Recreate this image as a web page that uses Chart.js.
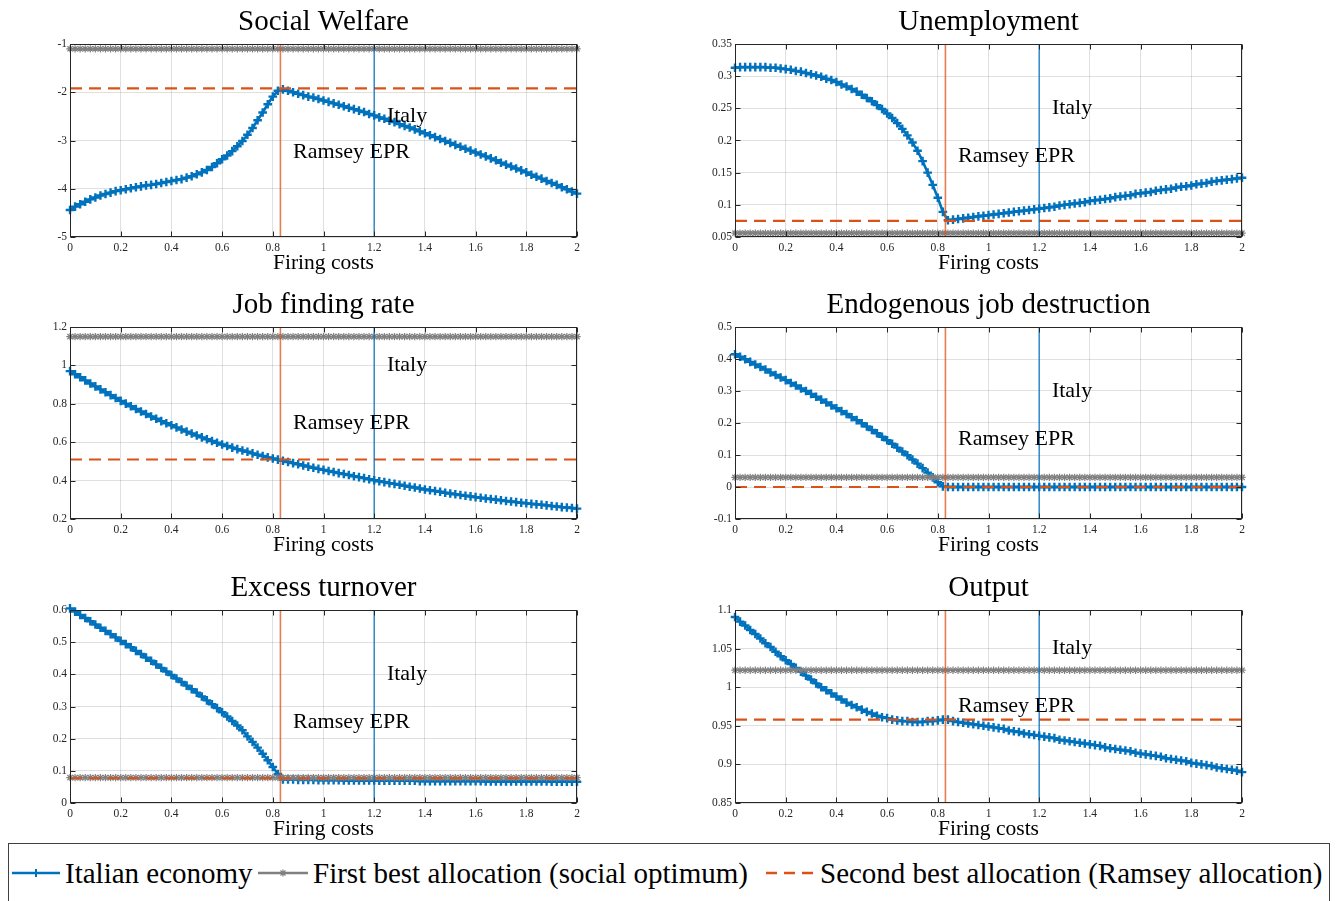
<!DOCTYPE html>
<html>
<head>
<meta charset="utf-8">
<title>Firing costs: Italian economy vs first and second best</title>
<script src="https://cdn.jsdelivr.net/npm/chart.js@4.4.1/dist/chart.umd.min.js"></script>
<style>
  html, body { margin: 0; padding: 0; background: #fff; overflow: hidden; }
  #page { position: relative; width: 1342px; height: 901px; }
  #page canvas { position: absolute; }
  .legend-box { position: absolute; left: 8px; top: 843px; width: 1322px; height: 70px;
                border: 1px solid #404040; box-sizing: border-box; }
  .lg { position: absolute; top: 858px; font-family: "Liberation Serif", serif; font-size: 29px;
        line-height: 30px; white-space: nowrap; color: #000; }
</style>
</head>
<body>
<div id="page">
  <canvas id="welfare"     width="660" height="283" style="left:0;top:0"></canvas>
  <canvas id="unemp"       width="682" height="283" style="left:660px;top:0"></canvas>
  <canvas id="jobfind"     width="660" height="283" style="left:0;top:283px"></canvas>
  <canvas id="jobdestr"    width="682" height="283" style="left:660px;top:283px"></canvas>
  <canvas id="turnover"    width="660" height="276" style="left:0;top:566px"></canvas>
  <canvas id="output"      width="682" height="276" style="left:660px;top:566px"></canvas>

  <div class="legend-box"></div>
  <svg style="position:absolute;left:0;top:843px" width="1342" height="58">
    <line x1="12" y1="30" x2="60" y2="30" stroke="#0072BD" stroke-width="2.5"/>
    <path d="M32 30h8M36 26v8" stroke="#0072BD" stroke-width="2" fill="none"/>
    <line x1="258" y1="30" x2="308" y2="30" stroke="#808080" stroke-width="2.5"/>
    <path d="M279.5 30h7M283 26.5v7M280.5 27.5l5 5M285.5 27.5l-5 5" stroke="#808080" stroke-width="1.2" fill="none"/>
    <line x1="766" y1="30" x2="815" y2="30" stroke="#D95319" stroke-width="2.5" stroke-dasharray="11 7"/>
  </svg>
  <span class="lg" style="left:65px">Italian economy</span>
  <span class="lg" style="left:313px">First best allocation (social optimum)</span>
  <span class="lg" style="left:820px">Second best allocation (Ramsey allocation)</span>
</div>

<script>
// ---- horizontal axis: firing costs grid and ticks ----
const firingCosts = [
  0.00,0.02,0.04,0.06,0.08,0.10,0.12,0.14,0.16,0.18,
  0.20,0.22,0.24,0.26,0.28,0.30,0.32,0.34,0.36,0.38,
  0.40,0.42,0.44,0.46,0.48,0.50,0.52,0.54,0.56,0.58,
  0.60,0.62,0.64,0.66,0.68,0.70,0.72,0.74,0.76,0.78,
  0.80,0.82,0.84,0.86,0.88,0.90,0.92,0.94,0.96,0.98,
  1.00,1.02,1.04,1.06,1.08,1.10,1.12,1.14,1.16,1.18,
  1.20,1.22,1.24,1.26,1.28,1.30,1.32,1.34,1.36,1.38,
  1.40,1.42,1.44,1.46,1.48,1.50,1.52,1.54,1.56,1.58,
  1.60,1.62,1.64,1.66,1.68,1.70,1.72,1.74,1.76,1.78,
  1.80,1.82,1.84,1.86,1.88,1.90,1.92,1.94,1.96,1.98,
  2.00
];
const xTickValues = [0, 0.2, 0.4, 0.6, 0.8, 1, 1.2, 1.4, 1.6, 1.8, 2];
const xTickLabels = ['0', '0.2', '0.4', '0.6', '0.8', '1', '1.2', '1.4', '1.6', '1.8', '2'];

// firing-cost levels marked by the vertical lines
const ramseyEpr = 0.83;
const italyEpr = 1.2;

// ---- Social welfare ----
const welfareItaly = [
  -4.44,-4.37,-4.32,-4.27,-4.22,-4.18,-4.14,-4.11,-4.08,-4.05,
  -4.03,-4.01,-3.99,-3.97,-3.95,-3.93,-3.92,-3.90,-3.88,-3.86,
  -3.84,-3.82,-3.80,-3.77,-3.74,-3.70,-3.66,-3.61,-3.55,-3.47,
  -3.39,-3.31,-3.22,-3.12,-3.01,-2.88,-2.74,-2.58,-2.42,-2.25,
  -2.09,-1.97,-1.94,-1.97,-2.00,-2.03,-2.06,-2.09,-2.11,-2.14,
  -2.17,-2.20,-2.23,-2.26,-2.29,-2.32,-2.35,-2.38,-2.41,-2.45,
  -2.48,-2.52,-2.55,-2.59,-2.62,-2.66,-2.70,-2.73,-2.77,-2.81,
  -2.85,-2.89,-2.93,-2.97,-3.01,-3.05,-3.09,-3.13,-3.17,-3.21,
  -3.25,-3.29,-3.33,-3.37,-3.41,-3.46,-3.50,-3.54,-3.58,-3.62,
  -3.66,-3.71,-3.75,-3.79,-3.84,-3.88,-3.92,-3.97,-4.01,-4.06,
  -4.10
];
const welfareFirstBest = -1.10;
const welfareRamsey = -1.92;
const welfareTicks = [-5, -4, -3, -2, -1];
const welfareTickLabels = ['-5', '-4', '-3', '-2', '-1'];

// ---- Unemployment ----
const unempItaly = [
  0.313,0.314,0.314,0.314,0.314,0.314,0.314,0.313,0.313,0.312,
  0.311,0.310,0.308,0.307,0.305,0.303,0.301,0.299,0.296,0.294,
  0.291,0.287,0.284,0.280,0.276,0.271,0.266,0.261,0.255,0.249,
  0.242,0.235,0.227,0.218,0.208,0.197,0.184,0.168,0.150,0.131,
  0.111,0.089,0.076,0.077,0.078,0.079,0.080,0.081,0.082,0.083,
  0.084,0.085,0.086,0.087,0.088,0.089,0.090,0.091,0.092,0.093,
  0.094,0.095,0.096,0.097,0.099,0.100,0.101,0.102,0.103,0.104,
  0.106,0.107,0.108,0.109,0.110,0.112,0.113,0.114,0.115,0.117,
  0.118,0.119,0.120,0.122,0.123,0.124,0.125,0.127,0.128,0.129,
  0.130,0.132,0.133,0.134,0.136,0.137,0.138,0.139,0.140,0.141,
  0.142
];
const unempFirstBest = 0.056;
const unempRamsey = 0.075;
const unempTicks = [0.05, 0.1, 0.15, 0.2, 0.25, 0.3, 0.35];
const unempTickLabels = ['0.05', '0.1', '0.15', '0.2', '0.25', '0.3', '0.35'];

// ---- Job finding rate ----
const jobFindItaly = [
  0.970,0.954,0.938,0.922,0.906,0.891,0.875,0.860,0.845,0.830,
  0.815,0.801,0.787,0.773,0.760,0.747,0.734,0.722,0.710,0.699,
  0.688,0.677,0.666,0.655,0.645,0.635,0.625,0.615,0.606,0.597,
  0.588,0.580,0.572,0.564,0.557,0.550,0.542,0.535,0.528,0.521,
  0.515,0.509,0.503,0.497,0.491,0.485,0.479,0.473,0.467,0.461,
  0.456,0.450,0.445,0.439,0.434,0.429,0.423,0.418,0.413,0.407,
  0.402,0.397,0.392,0.387,0.383,0.378,0.373,0.368,0.364,0.359,
  0.354,0.350,0.346,0.342,0.337,0.333,0.329,0.325,0.321,0.318,
  0.314,0.311,0.307,0.304,0.301,0.298,0.294,0.291,0.288,0.285,
  0.282,0.279,0.276,0.274,0.271,0.268,0.265,0.262,0.260,0.257,
  0.254
];
const jobFindFirstBest = 1.15;
const jobFindRamsey = 0.51;
const jobFindTicks = [0.2, 0.4, 0.6, 0.8, 1, 1.2];
const jobFindTickLabels = ['0.2', '0.4', '0.6', '0.8', '1', '1.2'];

// ---- Endogenous job destruction ----
const jobDestrItaly = [
  0.415,0.407,0.399,0.391,0.383,0.375,0.367,0.358,0.350,0.342,
  0.334,0.325,0.317,0.308,0.300,0.291,0.282,0.273,0.264,0.255,
  0.246,0.237,0.228,0.218,0.209,0.199,0.189,0.178,0.168,0.157,
  0.146,0.135,0.123,0.111,0.099,0.086,0.073,0.059,0.045,0.030,
  0.015,0.002,0.000,0.000,0.000,0.000,0.000,0.000,0.000,0.000,
  0.000,0.000,0.000,0.000,0.000,0.000,0.000,0.000,0.000,0.000,
  0.000,0.000,0.000,0.000,0.000,0.000,0.000,0.000,0.000,0.000,
  0.000,0.000,0.000,0.000,0.000,0.000,0.000,0.000,0.000,0.000,
  0.000,0.000,0.000,0.000,0.000,0.000,0.000,0.000,0.000,0.000,
  0.000,0.000,0.000,0.000,0.000,0.000,0.000,0.000,0.000,0.000,
  0.000
];
const jobDestrFirstBest = 0.030;
const jobDestrRamsey = 0.0;
const jobDestrTicks = [-0.1, 0, 0.1, 0.2, 0.3, 0.4, 0.5];
const jobDestrTickLabels = ['-0.1', '0', '0.1', '0.2', '0.3', '0.4', '0.5'];

// ---- Excess turnover ----
const turnoverItaly = [
  0.605,0.595,0.585,0.575,0.565,0.555,0.545,0.535,0.525,0.515,
  0.504,0.494,0.484,0.473,0.463,0.452,0.442,0.431,0.420,0.409,
  0.398,0.387,0.376,0.365,0.354,0.343,0.331,0.319,0.307,0.295,
  0.282,0.269,0.255,0.241,0.226,0.207,0.190,0.172,0.153,0.133,
  0.112,0.090,0.073,0.073,0.073,0.072,0.072,0.072,0.072,0.071,
  0.071,0.071,0.071,0.071,0.070,0.070,0.070,0.070,0.070,0.070,
  0.070,0.069,0.069,0.069,0.069,0.069,0.069,0.069,0.069,0.068,
  0.068,0.068,0.068,0.068,0.068,0.068,0.068,0.068,0.068,0.068,
  0.068,0.068,0.067,0.067,0.067,0.067,0.067,0.067,0.067,0.067,
  0.067,0.067,0.067,0.067,0.067,0.066,0.066,0.066,0.066,0.066,
  0.066
];
const turnoverFirstBest = 0.079;
const turnoverRamsey = 0.077;
const turnoverTicks = [0, 0.1, 0.2, 0.3, 0.4, 0.5, 0.6];
const turnoverTickLabels = ['0', '0.1', '0.2', '0.3', '0.4', '0.5', '0.6'];

// ---- Output ----
const outputItaly = [
  1.091,1.085,1.080,1.074,1.069,1.063,1.057,1.052,1.046,1.040,
  1.035,1.030,1.025,1.020,1.015,1.010,1.005,1.000,0.996,0.992,
  0.988,0.984,0.980,0.977,0.974,0.971,0.968,0.966,0.963,0.961,
  0.960,0.958,0.957,0.956,0.956,0.955,0.955,0.955,0.956,0.956,
  0.957,0.958,0.958,0.956,0.955,0.954,0.953,0.952,0.951,0.950,
  0.949,0.948,0.947,0.946,0.944,0.943,0.942,0.940,0.939,0.938,
  0.937,0.936,0.935,0.934,0.932,0.931,0.930,0.929,0.928,0.927,
  0.926,0.925,0.924,0.922,0.921,0.920,0.919,0.918,0.917,0.915,
  0.914,0.913,0.912,0.911,0.910,0.908,0.907,0.906,0.905,0.904,
  0.902,0.901,0.900,0.899,0.898,0.896,0.895,0.894,0.893,0.892,
  0.890
];
const outputFirstBest = 1.022;
const outputRamsey = 0.958;
const outputTicks = [0.85, 0.9, 0.95, 1, 1.05, 1.1];
const outputTickLabels = ['0.85', '0.9', '0.95', '1', '1.05', '1.1'];

// ---- colours and fonts ----
const BLUE = '#0072BD';
const GREY = '#808080';
const ORANGE = '#D95319';
const AXIS = '#262626';
const SERIF = '"Liberation Serif", "Times New Roman", serif';

// Titles, box, inward tick marks and the "Italy" / "Ramsey EPR" labels
const panelDecor = {
  id: 'panelDecor',
  afterDatasetsDraw(chart, args, o) {
    const { ctx, chartArea: a } = chart;
    const xs = chart.scales.x, ys = chart.scales.y;
    ctx.save();

    // text labels next to the vertical lines
    ctx.fillStyle = '#000';
    ctx.font = '22px ' + SERIF;
    ctx.textAlign = 'left';
    ctx.textBaseline = 'middle';
    o.notes.forEach(n => ctx.fillText(n.text, xs.getPixelForValue(n.x), ys.getPixelForValue(n.y)));

    // axes box
    ctx.strokeStyle = AXIS;
    ctx.lineWidth = 1;
    const L = Math.round(a.left) + 0.5, R = Math.round(a.right) - 0.5;
    const T = Math.round(a.top) + 0.5, B = Math.round(a.bottom) - 0.5;
    ctx.strokeRect(L, T, R - L, B - T);

    // tick marks pointing inwards on all four sides
    ctx.beginPath();
    xs.ticks.forEach(t => {
      const px = Math.round(xs.getPixelForValue(t.value)) + 0.5;
      ctx.moveTo(px, B); ctx.lineTo(px, B - 5);
      ctx.moveTo(px, T); ctx.lineTo(px, T + 5);
    });
    ys.ticks.forEach(t => {
      const py = Math.round(ys.getPixelForValue(t.value)) + 0.5;
      ctx.moveTo(L, py); ctx.lineTo(L + 5, py);
      ctx.moveTo(R, py); ctx.lineTo(R - 5, py);
    });
    ctx.stroke();

    // panel title and horizontal axis label
    ctx.fillStyle = '#000';
    ctx.textAlign = 'center';
    ctx.textBaseline = 'alphabetic';
    const cx = (a.left + a.right) / 2;
    ctx.font = '29px ' + SERIF;
    ctx.fillText(o.title, cx, a.top - 14);
    ctx.font = '21.5px ' + SERIF;
    ctx.fillText(o.xLabel, cx, a.bottom + 32);
    ctx.restore();
  }
};

function makePanel(id, p) {
  const curve = ys => firingCosts.map((x, i) => ({ x, y: ys[i] }));
  const level = v => firingCosts.map(x => ({ x, y: v }));
  const vline = (x) => [{ x, y: p.yMin }, { x, y: p.yMax }];

  new Chart(document.getElementById(id), {
    type: 'line',
    data: {
      datasets: [
        { label: 'Ramsey EPR', data: vline(ramseyEpr), borderColor: 'rgba(217,83,25,0.75)',
          borderWidth: 1.6, pointRadius: 0, order: 0 },
        { label: 'Italy', data: vline(italyEpr), borderColor: 'rgba(0,114,189,0.75)',
          borderWidth: 1.6, pointRadius: 0, order: 0 },
        { label: 'Second best allocation (Ramsey allocation)', data: level(p.ramsey),
          borderColor: ORANGE, borderWidth: 2.2, borderDash: [12, 7], pointRadius: 0, order: 1 },
        { label: 'First best allocation (social optimum)', data: level(p.firstBest),
          borderColor: GREY, borderWidth: 1.8, pointStyle: 'star', pointRadius: 3.7,
          pointBorderWidth: 1.2, pointBorderColor: GREY, pointBackgroundColor: GREY, order: 2, clip: false },
        { label: 'Italian economy', data: curve(p.italy),
          borderColor: BLUE, borderWidth: 2.6, pointStyle: 'cross', pointRadius: 4.3,
          pointBorderWidth: 2.4, pointBorderColor: BLUE, order: 3, clip: false }
      ]
    },
    options: {
      responsive: false,
      animation: false,
      devicePixelRatio: 1,
      events: [],
      layout: { autoPadding: false, padding: { left: 0, top: p.padTop, right: p.padRight, bottom: 0 } },
      plugins: {
        legend: { display: false },
        tooltip: { enabled: false },
        title: { display: false },
        panelDecor: { title: p.title, xLabel: 'Firing costs', notes: p.notes }
      },
      scales: {
        x: {
          type: 'linear', min: 0, max: 2,
          afterBuildTicks: s => { s.ticks = xTickValues.map(v => ({ value: v })); },
          afterFit: s => { s.height = p.xAxisH; },
          grid: { color: 'rgba(38,38,38,0.14)', drawTicks: false },
          border: { display: false },
          ticks: { autoSkip: false, maxRotation: 0, padding: 4, color: AXIS,
                   font: { family: SERIF, size: 11.5 },
                   callback: (v, i) => xTickLabels[i] }
        },
        y: {
          type: 'linear', min: p.yMin, max: p.yMax,
          afterBuildTicks: s => { s.ticks = p.yTicks.map(v => ({ value: v })); },
          afterFit: s => { s.width = p.yAxisW; },
          grid: { color: 'rgba(38,38,38,0.14)', drawTicks: false },
          border: { display: false },
          ticks: { autoSkip: false, padding: 3, color: AXIS,
                   font: { family: SERIF, size: 11.5 },
                   callback: (v, i) => p.yTickLabels[i] }
        }
      }
    },
    plugins: [panelDecor]
  });
}

// panel geometry: left column plot spans x 70..577, right column 735..1242
const leftCol  = { yAxisW: 70, padRight: 83 };
const rightCol = { yAxisW: 75, padRight: 100 };
const row1 = { padTop: 44, xAxisH: 46 };
const row2 = { padTop: 44, xAxisH: 47 };
const row3 = { padTop: 44, xAxisH: 39 };

const note = (yItaly, yRamsey) => [
  { text: 'Italy', x: 1.25, y: yItaly },
  { text: 'Ramsey EPR', x: 0.88, y: yRamsey }
];

makePanel('welfare', Object.assign({}, leftCol, row1, {
  title: 'Social Welfare', yMin: -5, yMax: -1, yTicks: welfareTicks, yTickLabels: welfareTickLabels,
  italy: welfareItaly, firstBest: welfareFirstBest, ramsey: welfareRamsey, notes: note(-2.5, -3.25)
}));
makePanel('unemp', Object.assign({}, rightCol, row1, {
  title: 'Unemployment', yMin: 0.05, yMax: 0.35, yTicks: unempTicks, yTickLabels: unempTickLabels,
  italy: unempItaly, firstBest: unempFirstBest, ramsey: unempRamsey, notes: note(0.25, 0.175)
}));
makePanel('jobfind', Object.assign({}, leftCol, row2, {
  title: 'Job finding rate', yMin: 0.2, yMax: 1.2, yTicks: jobFindTicks, yTickLabels: jobFindTickLabels,
  italy: jobFindItaly, firstBest: jobFindFirstBest, ramsey: jobFindRamsey, notes: note(1.0, 0.7)
}));
makePanel('jobdestr', Object.assign({}, rightCol, row2, {
  title: 'Endogenous job destruction', yMin: -0.1, yMax: 0.5, yTicks: jobDestrTicks, yTickLabels: jobDestrTickLabels,
  italy: jobDestrItaly, firstBest: jobDestrFirstBest, ramsey: jobDestrRamsey, notes: note(0.3, 0.15)
}));
makePanel('turnover', Object.assign({}, leftCol, row3, {
  title: 'Excess turnover', yMin: 0, yMax: 0.6, yTicks: turnoverTicks, yTickLabels: turnoverTickLabels,
  italy: turnoverItaly, firstBest: turnoverFirstBest, ramsey: turnoverRamsey, notes: note(0.4, 0.25)
}));
makePanel('output', Object.assign({}, rightCol, row3, {
  title: 'Output', yMin: 0.85, yMax: 1.1, yTicks: outputTicks, yTickLabels: outputTickLabels,
  italy: outputItaly, firstBest: outputFirstBest, ramsey: outputRamsey, notes: note(1.05, 0.975)
}));
</script>
</body>
</html>
